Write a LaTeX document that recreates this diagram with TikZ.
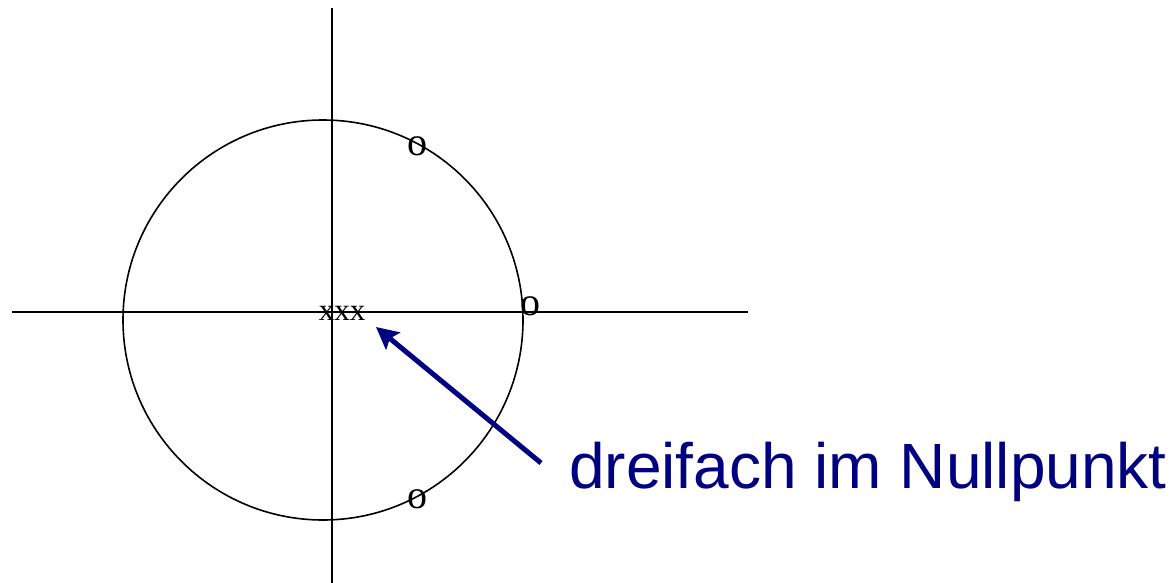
\documentclass[tikz,border=0pt]{standalone}
\usepackage{fontspec}
\setmainfont{Liberation Serif}
\newfontfamily\labelfont{Liberation Sans}
\usepackage{tikz}
\usetikzlibrary{arrows.meta}
\definecolor{navy}{RGB}{0,0,128}

\begin{document}
\begin{tikzpicture}[x=1pt,y=-1pt]
    \useasboundingbox (0,0) rectangle (1175,583);
    \coordinate (L) at (12,312);
    \coordinate (R) at (748,312);
    \coordinate (T) at (332,8);
    \coordinate (U) at (332,583);
    \coordinate (M) at (323,320);
    \coordinate (S) at (541,463);
    \coordinate (P) at (376,327);

    \draw[line width=1.8pt] (L) -- (R);
    \draw[line width=1.8pt] (T) -- (U);
    \draw[line width=1.6pt] (M) circle (200);

    \foreach \n/\x/\y in {oa/417/156,ob/530/315,oc/417/508}
        {\node[anchor=base, inner sep=0pt, font=\fontsize{40}{40}\selectfont] (\n) at (\x,\y) {o};}
    \node[anchor=base, inner sep=0pt, font=\fontsize{31}{31}\selectfont] (xxx) at (342,320) {xxx};

    \node[anchor=base west, inner sep=0pt, text=navy, font=\labelfont\fontsize{64}{64}\selectfont] (lbl) at (569,488) {dreifach im Nullpunkt};
    \draw[navy, line width=5pt, -{Stealth[length=22pt,width=22pt,inset=4pt]}] (S) -- (P);
\end{tikzpicture}
\end{document}
